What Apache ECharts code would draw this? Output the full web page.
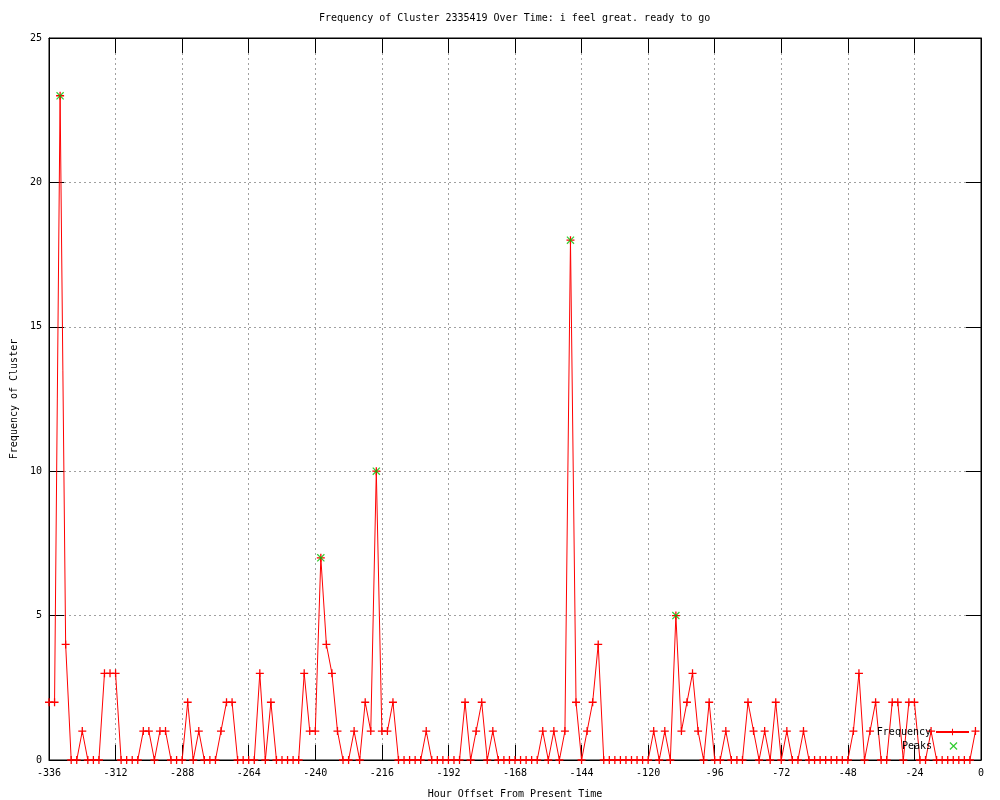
<!DOCTYPE html>
<html>
<head>
<meta charset="utf-8">
<script src="https://cdn.jsdelivr.net/npm/echarts@6/dist/echarts.min.js"></script>
<style>html,body{margin:0;padding:0;background:#fff;}#chart{width:1000px;height:800px;}</style>
</head>
<body>
<div id="chart"></div>
<script>
const hours = [
-336,-334,-332,-330,-328,-326,-324,-322,-320,-318,
-316,-314,-312,-310,-308,-306,-304,-302,-300,-298,
-296,-294,-292,-290,-288,-286,-284,-282,-280,-278,
-276,-274,-272,-270,-268,-266,-264,-262,-260,-258,
-256,-254,-252,-250,-248,-246,-244,-242,-240,-238,
-236,-234,-232,-230,-228,-226,-224,-222,-220,-218,
-216,-214,-212,-210,-208,-206,-204,-202,-200,-198,
-196,-194,-192,-190,-188,-186,-184,-182,-180,-178,
-176,-174,-172,-170,-168,-166,-164,-162,-160,-158,
-156,-154,-152,-150,-148,-146,-144,-142,-140,-138,
-136,-134,-132,-130,-128,-126,-124,-122,-120,-118,
-116,-114,-112,-110,-108,-106,-104,-102,-100,-98,
-96,-94,-92,-90,-88,-86,-84,-82,-80,-78,
-76,-74,-72,-70,-68,-66,-64,-62,-60,-58,
-56,-54,-52,-50,-48,-46,-44,-42,-40,-38,
-36,-34,-32,-30,-28,-26,-24,-22,-20,-18,
-16,-14,-12,-10,-8,-6,-4,-2
];
const frequency = [
2,2,23,4,0,0,1,0,0,0,
3,3,3,0,0,0,0,1,1,0,
1,1,0,0,0,2,0,1,0,0,
0,1,2,2,0,0,0,0,3,0,
2,0,0,0,0,0,3,1,1,7,
4,3,1,0,0,1,0,2,1,10,
1,1,2,0,0,0,0,0,1,0,
0,0,0,0,0,2,0,1,2,0,
1,0,0,0,0,0,0,0,0,1,
0,1,0,1,18,2,0,1,2,4,
0,0,0,0,0,0,0,0,0,1,
0,1,0,5,1,2,3,1,0,2,
0,0,1,0,0,0,2,1,0,1,
0,2,0,1,0,0,1,0,0,0,
0,0,0,0,0,1,3,0,1,2,
0,0,2,2,0,2,2,0,0,1,
0,0,0,0,0,0,0,1
];
const peakHours = [-332, -238, -218, -148, -110];
const peakValues = [23, 7, 10, 18, 5];

const FONT = 'DejaVu Sans Mono';
const PLUS = 'path://M0,4.2L10,4.2L10,5.8L0,5.8Z M4.2,0L5.8,0L5.8,10L4.2,10Z';
const CROSS = 'path://M0,1.1L1.1,0L10,8.9L8.9,10Z M8.9,0L10,1.1L1.1,10L0,8.9Z';
const CROSS_WIDE = 'path://M0,4L0.01,4L0,4.01Z M33,4L32.99,4L33,4.01Z ' +
  'M12.5,0.9L13.4,0L20.5,7.1L19.6,8Z M19.6,0L20.5,0.9L13.4,8L12.5,7.1Z';

const freqData = hours.map((h, i) => [h, frequency[i]]);
const peakData = peakHours.map((h, i) => [h, peakValues[i]]);

const chart = echarts.init(document.getElementById('chart'), null, {renderer: 'canvas'});

function axisLine() { return {show: true, onZero: false, lineStyle: {color: '#000', width: 1}}; }
function axisTick() { return {show: true, inside: true, length: 15, lineStyle: {color: '#000', width: 1}}; }
function gridLine() { return {show: true, lineStyle: {color: '#a0a0a0', width: 1, type: [2, 3]}}; }
const labelStyle = {fontFamily: FONT, fontSize: 10, color: '#000'};

chart.setOption({
  animation: false,
  backgroundColor: '#fff',
  title: {
    text: 'Frequency of Cluster 2335419 Over Time: i feel great. ready to go',
    left: 319, top: 13, padding: 0,
    textStyle: {fontFamily: FONT, fontSize: 10, fontWeight: 'normal', color: '#000'}
  },
  grid: {left: 49, right: 19, top: 38, bottom: 40, containLabel: false,
         outerBoundsMode: 'none',
         show: true, borderColor: '#000', borderWidth: 1},
  legend: [
    {data: ['Frequency'], orient: 'vertical', align: 'right', right: 30, top: 727,
     itemWidth: 33, itemHeight: 8, padding: 0,
     textStyle: labelStyle},
    {data: [{name: 'Peaks', icon: CROSS_WIDE}], orient: 'vertical', align: 'right', right: 30, top: 741,
     itemWidth: 33, itemHeight: 8, padding: 0,
     textStyle: labelStyle}
  ],
  xAxis: [
    {
      type: 'value', min: -336, max: 0, interval: 24, position: 'bottom',
      name: 'Hour Offset From Present Time', nameLocation: 'middle', nameGap: 29,
      nameTextStyle: labelStyle,
      axisLabel: Object.assign({margin: 8}, labelStyle),
      axisLine: axisLine(), axisTick: axisTick(), splitLine: gridLine()
    },
    {
      type: 'value', min: -336, max: 0, interval: 24, position: 'top',
      axisLabel: {show: false},
      axisLine: axisLine(), axisTick: axisTick(), splitLine: {show: false}
    }
  ],
  yAxis: [
    {
      type: 'value', min: 0, max: 25, interval: 5, position: 'left',
      name: 'Frequency of Cluster', nameLocation: 'middle', nameGap: 30, nameRotate: 90,
      nameTextStyle: labelStyle,
      axisLabel: Object.assign({margin: 7}, labelStyle),
      axisLine: axisLine(), axisTick: axisTick(), splitLine: gridLine()
    },
    {
      type: 'value', min: 0, max: 25, interval: 5, position: 'right',
      axisLabel: {show: false},
      axisLine: axisLine(), axisTick: axisTick(), splitLine: {show: false}
    }
  ],
  series: [
    {
      name: 'Frequency', type: 'line', data: freqData,
      xAxisIndex: 0, yAxisIndex: 0,
      symbol: PLUS, symbolSize: 8, showAllSymbol: true,
      lineStyle: {color: '#ff0000', width: 1},
      itemStyle: {color: '#ff0000'},
      z: 3
    },
    {
      name: 'Peaks', type: 'scatter', data: peakData,
      xAxisIndex: 0, yAxisIndex: 0,
      symbol: CROSS, symbolSize: 8,
      itemStyle: {color: '#00c000'},
      z: 4
    }
  ]
});
</script>
</body>
</html>
